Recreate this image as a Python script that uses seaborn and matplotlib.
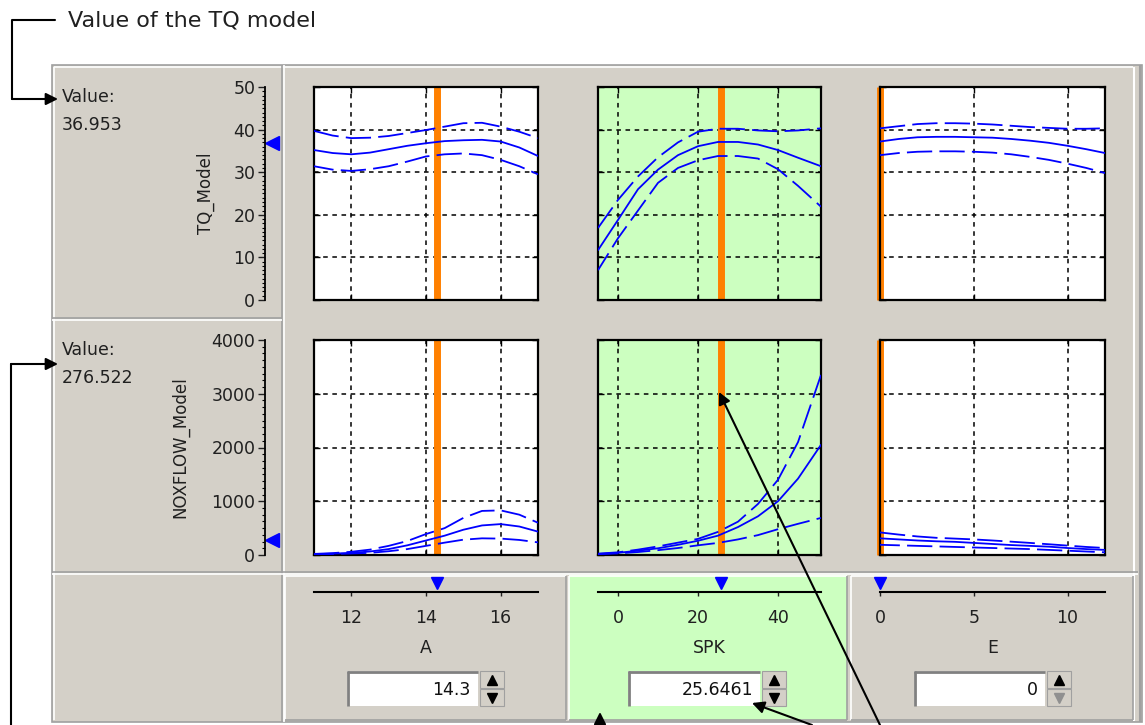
import matplotlib
matplotlib.use('Agg')
import matplotlib.pyplot as plt
import seaborn as sns
from matplotlib.patches import Rectangle

sns.set_theme(style='white')
plt.rcParams['font.family'] = ['DejaVu Sans']

W, H = 1145, 725
GRAY = '#D4D0C8'
GREEN = '#CCFFC0'
BLUE = '#0000FF'
ORANGE = '#FF8000'

# --- data ---
inputs = ['A', 'SPK', 'E']
input_vals = [14.3, 25.6461, 0]
input_lims = [(11, 17), (-5, 50.75), (0, 12)]
input_ticks = [[12, 14, 16], [0, 20, 40], [0, 5, 10]]

outputs = ['TQ_Model', 'NOXFLOW_Model']
output_vals = [36.953, 276.522]
output_lims = [(0, 50), (0, 4000)]
output_ticks = [[0, 10, 20, 30, 40, 50], [0, 1000, 2000, 3000, 4000]]
output_minor = [1, 125]

A_grid = [11, 11.5, 12, 12.5, 13, 13.5, 14, 14.5, 15, 15.5, 16, 16.5, 17]
SPK_grid = [-5, 0, 5, 10, 15, 20, 25, 30, 35, 40, 45, 50.75]
E_grid = [0, 1, 2, 3, 4, 5, 6, 7, 8, 9, 10, 11, 12]

tq_A_mid = [35.2, 34.5, 34.2, 34.6, 35.4, 36.2, 36.8, 37.3, 37.5, 37.6, 37.2, 35.8, 33.8]
tq_A_hi = [39.7, 38.6, 38.0, 38.1, 38.5, 39.2, 39.9, 40.7, 41.5, 41.6, 40.7, 39.5, 38.0]
tq_A_lo = [31.4, 30.6, 30.3, 30.7, 31.4, 32.5, 33.7, 34.2, 34.4, 34.0, 32.9, 31.4, 29.5]

tq_SPK_mid = [11.7, 18.8, 26.0, 30.6, 34.0, 36.1, 37.1, 37.1, 36.5, 35.2, 33.4, 31.4]
tq_SPK_hi = [16.9, 23.5, 29.0, 33.5, 37.0, 39.5, 40.2, 40.2, 39.8, 39.6, 39.8, 40.3]
tq_SPK_lo = [7.0, 14.5, 21.0, 27.5, 31.0, 32.8, 33.8, 33.8, 33.2, 30.7, 26.8, 21.9]

tq_E_mid = [37.2, 37.8, 38.2, 38.3, 38.3, 38.2, 38.1, 37.8, 37.4, 36.9, 36.2, 35.4, 34.5]
tq_E_hi = [40.3, 40.8, 41.3, 41.5, 41.5, 41.4, 41.2, 40.9, 40.6, 40.4, 40.2, 40.2, 40.3]
tq_E_lo = [34.0, 34.5, 34.8, 34.9, 34.9, 34.8, 34.6, 34.2, 33.6, 32.9, 32.0, 31.0, 29.8]

nox_A_mid = [15, 25, 40, 65, 110, 180, 270, 360, 470, 550, 575, 530, 435]
nox_A_hi = [20, 35, 60, 100, 170, 260, 390, 500, 690, 820, 830, 750, 600]
nox_A_lo = [10, 18, 28, 40, 70, 110, 170, 230, 285, 310, 305, 280, 235]

nox_SPK_mid = [20, 40, 80, 125, 190, 265, 360, 520, 720, 1000, 1420, 2050]
nox_SPK_hi = [25, 50, 100, 160, 230, 300, 430, 620, 950, 1400, 2100, 3350]
nox_SPK_lo = [15, 30, 55, 90, 130, 180, 225, 290, 370, 480, 580, 690]

nox_E_mid = [310, 290, 270, 255, 245, 225, 205, 185, 170, 155, 130, 110, 95]
nox_E_hi = [420, 380, 345, 320, 305, 290, 270, 248, 225, 200, 175, 150, 130]
nox_E_lo = [190, 180, 170, 160, 150, 140, 130, 120, 110, 95, 80, 65, 50]

grids = [A_grid, SPK_grid, E_grid]
curves = [
    [(tq_A_mid, tq_A_hi, tq_A_lo), (tq_SPK_mid, tq_SPK_hi, tq_SPK_lo), (tq_E_mid, tq_E_hi, tq_E_lo)],
    [(nox_A_mid, nox_A_hi, nox_A_lo), (nox_SPK_mid, nox_SPK_hi, nox_SPK_lo), (nox_E_mid, nox_E_hi, nox_E_lo)],
]

# --- layout in pixels ---
cols = [(314, 538), (598, 821), (880, 1105)]
rows = [(87, 300), (340, 555)]
active_col = 1

fig = plt.figure(figsize=(W / 100, H / 100), dpi=100)


def px_axes(x0, y0, x1, y1):
    return fig.add_axes([x0 / W, 1 - y1 / H, (x1 - x0) / W, (y1 - y0) / H])


def hline(ax, x0, x1, y, c, lw=1.2):
    ax.plot([x0, x1], [y, y], color=c, lw=lw, solid_capstyle='butt')


def vline(ax, x, y0, y1, c, lw=1.2):
    ax.plot([x, x], [y0, y1], color=c, lw=lw, solid_capstyle='butt')


# background GUI
bg = px_axes(0, 0, W, H)
bg.set_xlim(0, W)
bg.set_ylim(H, 0)
bg.axis('off')
bg.add_patch(Rectangle((52, 65), 1090, 657, fc=GRAY, ec='#A0A0A0', lw=1.2))
hline(bg, 54, 1133, 67, 'white')
vline(bg, 54, 67, 720, 'white')
vline(bg, 1134, 67, 721, 'white', 1.5)
vline(bg, 1140, 65, 722, '#A0A0A0', 1.5)
vline(bg, 282, 65, 722, '#A0A0A0')
vline(bg, 284, 65, 722, 'white')
hline(bg, 52, 282, 318, '#A0A0A0')
hline(bg, 52, 282, 320, 'white')
hline(bg, 52, 1138, 572, '#A0A0A0')
hline(bg, 52, 1138, 574, 'white')

cells = [(285, 566), (569, 847), (851, 1133)]
for i, (c0, c1) in enumerate(cells):
    fc = GREEN if i == active_col else GRAY
    bg.add_patch(Rectangle((c0, 575), c1 - c0, 145, fc=fc, ec='none'))
    hline(bg, c0, c1, 576, 'white')
    vline(bg, c0, 576, 720, 'white')
    vline(bg, c1, 576, 720, '#A0A0A0')
    hline(bg, c0, c1, 720, '#A0A0A0')

# value read-outs and y labels in left column
for r, (y0, y1) in enumerate(rows):
    bg.text(62, y0 + 10, 'Value:', fontsize=12.5, va='center', color='#202020')
    bg.text(62, y0 + 38, f'{output_vals[r]:.3f}', fontsize=12.5, va='center', color='#202020')
lab_x = [206, 180]
for r, (y0, y1) in enumerate(rows):
    bg.text(lab_x[r], (y0 + y1) / 2, outputs[r], rotation=90, fontsize=12,
            ha='center', va='center', color='#202020')

# input boxes with spinners
boxes = [(347, 478), (628, 760), (914, 1045)]
for i, (x0, x1) in enumerate(boxes):
    bg.add_patch(Rectangle((x0, 671), x1 - x0, 35, fc='white', ec='none'))
    hline(bg, x0, x1, 672, '#808080', 2)
    vline(bg, x0 + 1, 671, 706, '#808080', 2)
    bg.text(x1 - 7, 690, f'{input_vals[i]:g}', fontsize=12.5, ha='right', va='center', color='#101010')
    s0, s1 = x1 + 2, x1 + 26
    for yy in (671, 689):
        bg.add_patch(Rectangle((s0, yy), s1 - s0, 17, fc=GRAY, ec='#A0A0A0', lw=0.8))
    down_col = '#909090' if input_vals[i] <= input_lims[i][0] else 'black'
    bg.plot([(s0 + s1) / 2], [680], marker='^', color='black', ms=7, ls='none')
    bg.plot([(s0 + s1) / 2], [698], marker='v', color=down_col, ms=7, ls='none')

# response panels
for r, (y0, y1) in enumerate(rows):
    for c, (x0, x1) in enumerate(cols):
        ax = px_axes(x0, y0, x1, y1)
        ax.set_facecolor(GREEN if c == active_col else 'white')
        mid, hi, lo = curves[r][c]
        x = grids[c]
        ax.axvline(input_vals[c], color=ORANGE, lw=5.0, zorder=1.5, clip_on=False,
                   solid_capstyle='butt')
        sns.lineplot(x=x, y=mid, ax=ax, color=BLUE, lw=1.3, zorder=3)
        sns.lineplot(x=x, y=hi, ax=ax, color=BLUE, lw=1.3, linestyle=(0, (14, 4)), zorder=3)
        sns.lineplot(x=x, y=lo, ax=ax, color=BLUE, lw=1.3, linestyle=(3, (14, 4)), zorder=3)
        ax.set_xlim(*input_lims[c])
        ax.set_ylim(*output_lims[r])
        ax.set_xticks(input_ticks[c])
        ax.set_yticks(output_ticks[r])
        ax.grid(True, color='black', linestyle=(0, (3, 3)), lw=1.1)
        ax.tick_params(direction='in', length=4, width=1, top=True, right=True,
                       bottom=True, left=True, labelbottom=False, labelleft=False,
                       colors='black')
        for s in ax.spines.values():
            s.set_color('black')
            s.set_linewidth(1.6)
        ax.set_xlabel('')
        ax.set_ylabel('')

# output y axes with current value markers
for r, (y0, y1) in enumerate(rows):
    ay = px_axes(265, y0, 281, y1)
    ay.set_facecolor('none')
    ay.set_xlim(0, 1)
    ay.set_ylim(*output_lims[r])
    for k in ('top', 'right', 'bottom'):
        ay.spines[k].set_visible(False)
    ay.spines['left'].set_color('black')
    ay.spines['left'].set_linewidth(1.3)
    ay.set_xticks([])
    ay.set_yticks(output_ticks[r])
    ay.yaxis.set_minor_locator(matplotlib.ticker.MultipleLocator(output_minor[r]))
    ay.tick_params(axis='y', which='major', direction='out', length=5, width=1,
                   labelsize=12.5, pad=2, left=True, colors='#202020')
    ay.tick_params(axis='y', which='minor', direction='out', length=2.5, width=0.8,
                   left=True, colors='black')
    ay.plot([0.45], [output_vals[r]], marker='<', color=BLUE, ms=10, clip_on=False)

# input sliders
for c, (x0, x1) in enumerate(cols):
    sl = px_axes(x0, 572, x1, 592)
    sl.set_facecolor('none')
    sl.set_xlim(*input_lims[c])
    sl.set_ylim(0, 1)
    for k in ('top', 'right', 'left'):
        sl.spines[k].set_visible(False)
    sl.spines['bottom'].set_color('black')
    sl.spines['bottom'].set_linewidth(1.5)
    sl.set_yticks([])
    sl.set_xticks(input_ticks[c])
    sl.tick_params(axis='x', direction='out', length=3, width=1, labelsize=12.5,
                   pad=9, bottom=True, colors='#202020')
    sl.set_xlabel(inputs[c], fontsize=12.5, labelpad=9, color='#202020')
    sl.plot([input_vals[c]], [0.45], marker='v', color=BLUE, ms=9, clip_on=False)

# callout annotations on top
ov = px_axes(0, 0, W, H)
ov.set_facecolor('none')
ov.set_xlim(0, W)
ov.set_ylim(H, 0)
ov.axis('off')
arrow = dict(arrowstyle='-|>', color='black', lw=1.5, mutation_scale=18, shrinkA=0, shrinkB=0)
ov.text(68, 20, 'Value of the TQ model', fontsize=16, va='center', color='#202020')
ov.plot([55, 12, 12], [20, 20, 99], color='black', lw=1.5)
ov.annotate('', xy=(58, 99), xytext=(12, 99), arrowprops=arrow)
ov.plot([11, 11], [725, 364], color='black', lw=1.5)
ov.annotate('', xy=(58, 364), xytext=(11, 364), arrowprops=arrow)
ov.annotate('', xy=(600, 712), xytext=(600, 725), arrowprops=arrow)
ov.annotate('', xy=(752, 703), xytext=(812, 725), arrowprops=arrow)
ov.annotate('', xy=(719, 392), xytext=(880, 725), arrowprops=arrow)

fig.savefig('out.png', dpi=100, facecolor='white')
